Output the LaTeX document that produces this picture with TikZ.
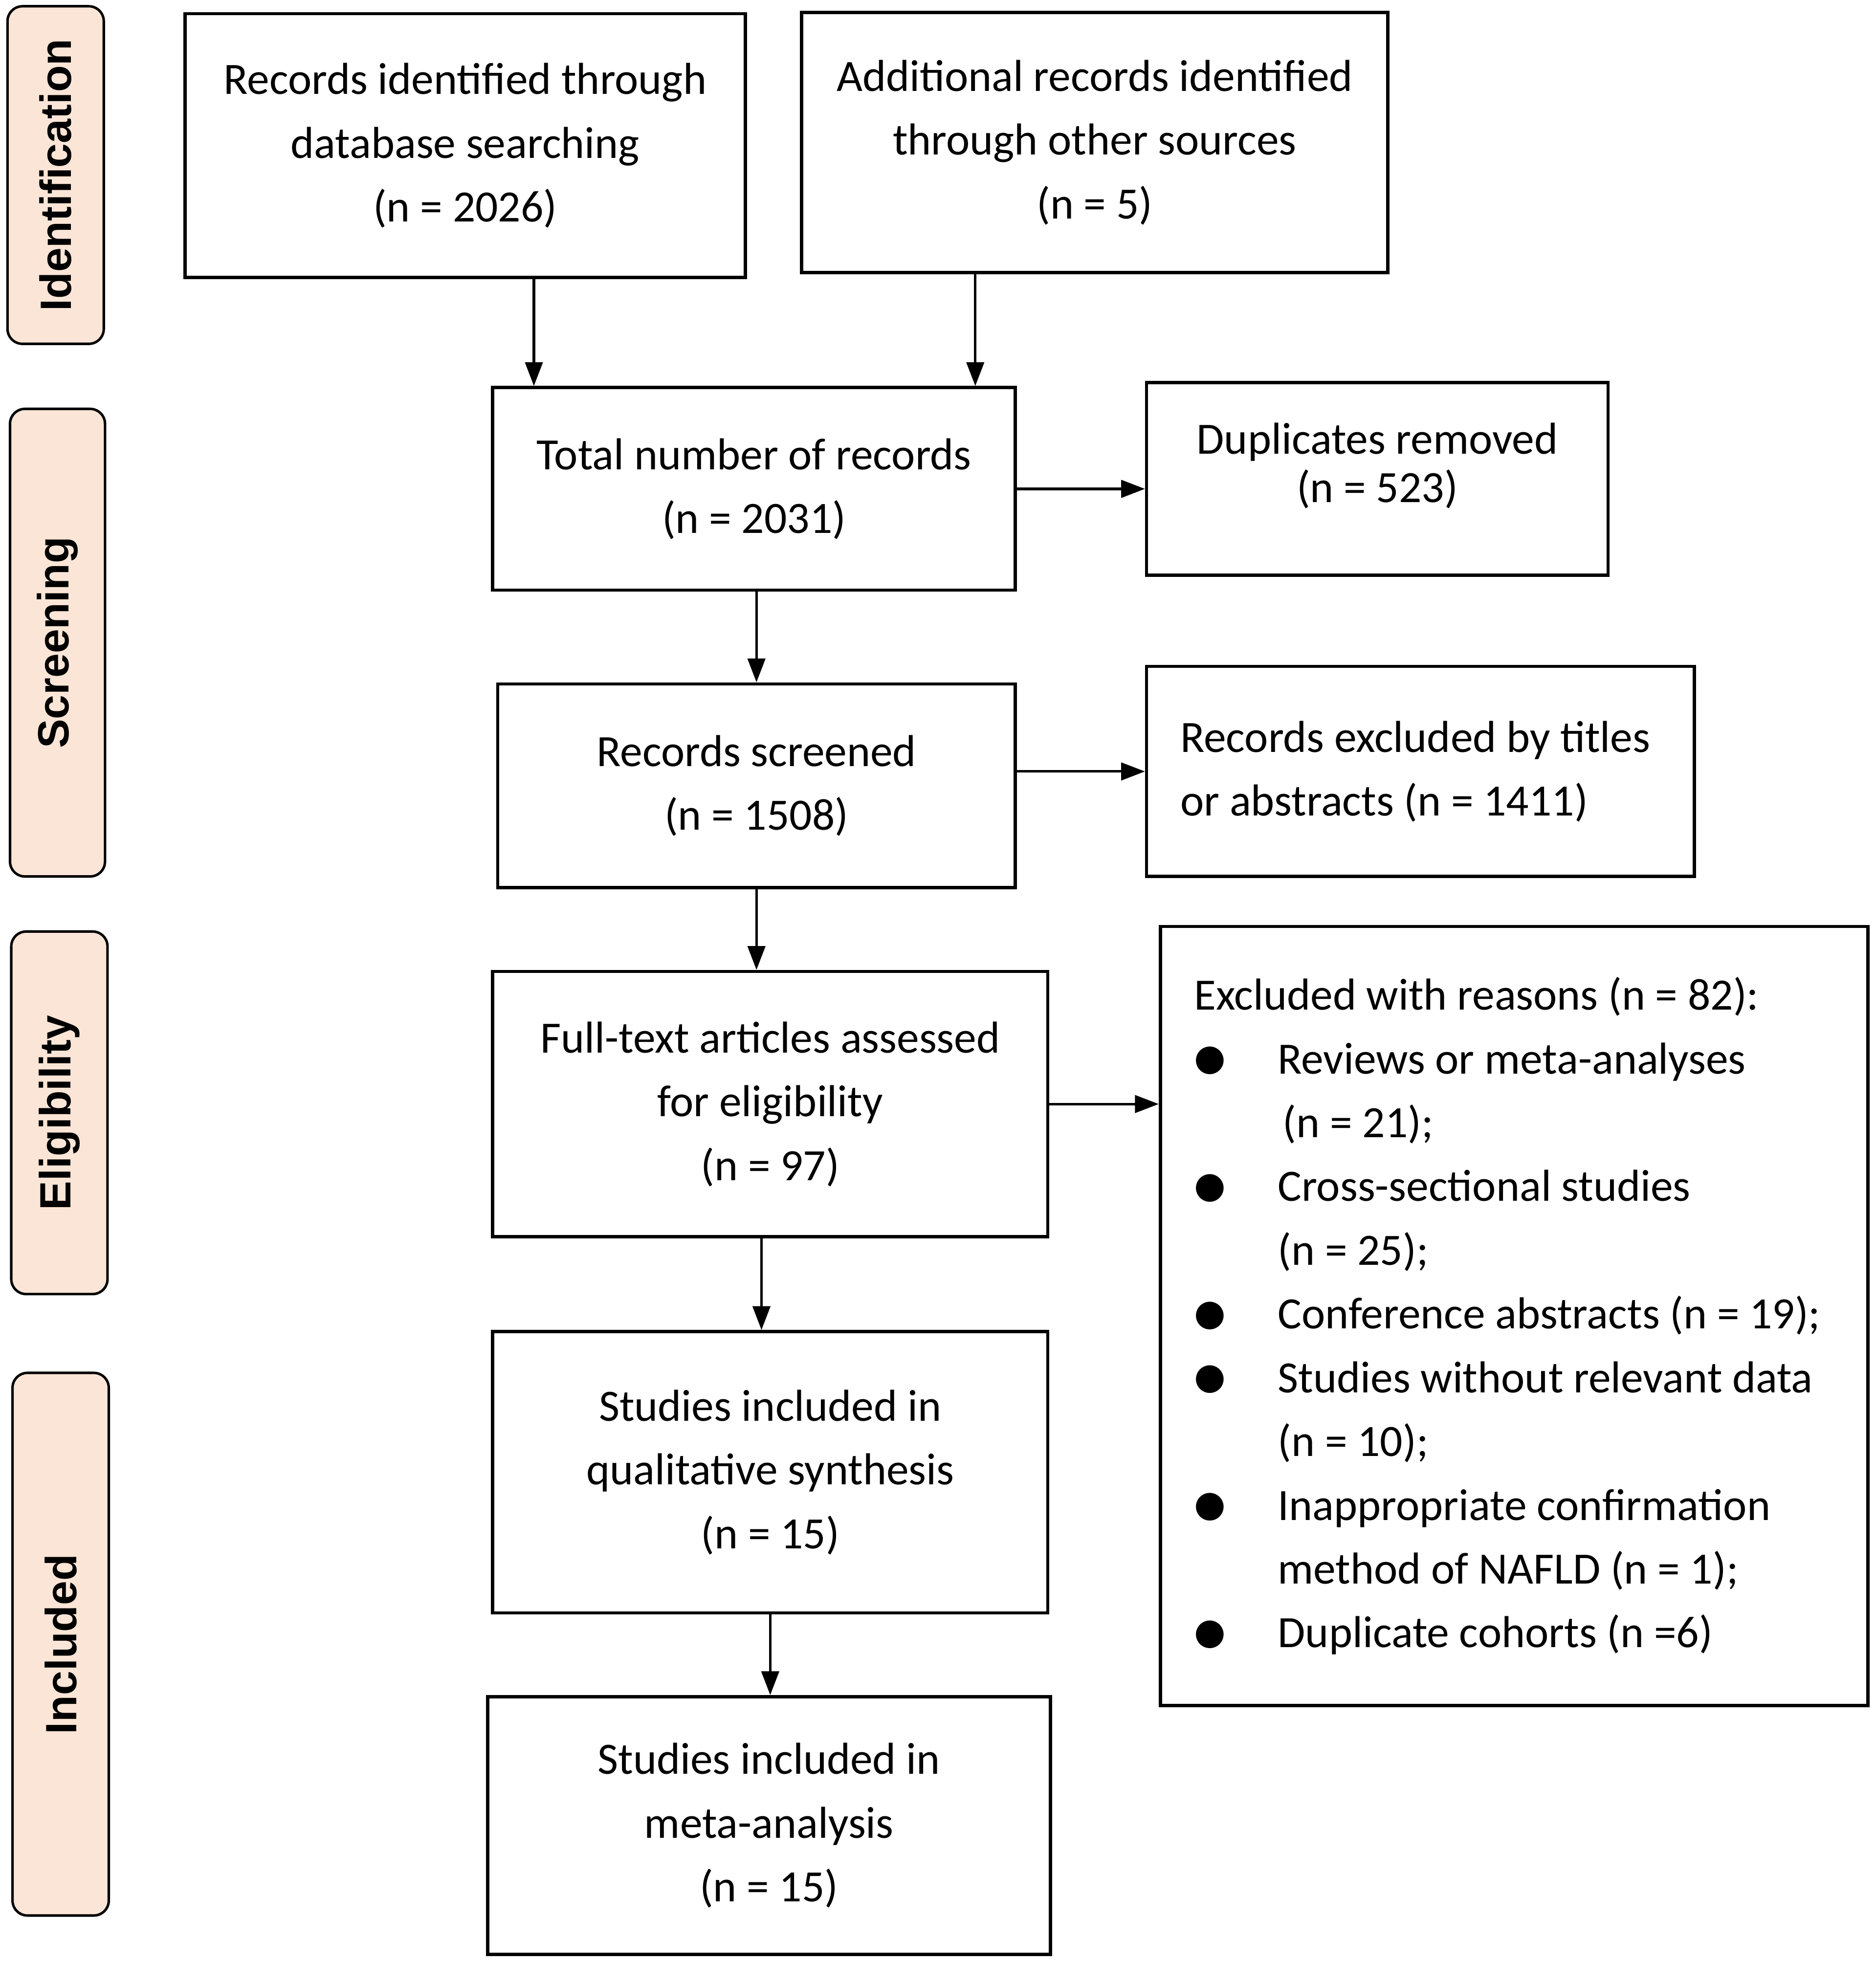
\documentclass[tikz,border=0pt]{standalone}
\usepackage{fontspec}
\setmainfont{Carlito}
\newfontfamily\sidefont{Liberation Sans}
\newfontfamily\dotfont{DejaVu Sans}
\usetikzlibrary{arrows.meta}
\definecolor{stagefill}{HTML}{FBE5D6}
\newcommand{\bul}{\makebox[33.5pt][l]{\raisebox{1.5pt}{\dotfont\fontsize{14.5}{14.5}\selectfont ●}}}
\newcommand{\cont}{\hspace*{33.5pt}}

\begin{document}
\begin{tikzpicture}[x=0.5pt,y=-0.5pt]
% Default actions for each node
\tikzstyle{every node}=[font=\fontsize{17.9}{25.5}\selectfont];
\tikzstyle{box} = [draw, line width=1.3pt, align=center, inner sep=0pt]
\tikzstyle{stage} = [draw, line width=1pt, fill=stagefill, rounded corners=6pt, rotate=90, inner sep=0pt, font=\sidefont\bfseries\fontsize{17.5}{17.5}\selectfont]
\tikzstyle{arr} = [draw, line width=1pt, -{Triangle[length=9.5pt,width=7pt]}]
\useasboundingbox (0,0) rectangle (1500,1568.4);
% Stage labels on the left
\node [stage, minimum width=135pt, minimum height=38.5pt] (ident) at (44.5,140) {Identification};
\node [stage, minimum width=187pt, minimum height=38pt] (screen) at (46,514) {Screening};
\node [stage, minimum width=145pt, minimum height=38.5pt] (elig) at (47.5,890) {Eligibility};
\node [stage, minimum width=217pt, minimum height=38.5pt] (incl) at (48.5,1315) {Included};
% Define and draw the boxes
\node [box, minimum width=224pt, minimum height=105.5pt] (recdb) at (372,116.5)
{Records identified through\\database searching\\(n = 2026)};
\node [box, minimum width=234.5pt, minimum height=104pt] (recother) at (875.5,114)
{Additional records identified\\through other sources\\(n = 5)};
\node [box, minimum width=209pt, minimum height=81pt] (total) at (603,391)
{Total number of records\\(n = 2031)};
\node [box, minimum width=184.5pt, minimum height=77pt, font=\fontsize{17.9}{19.5}\selectfont] (dupl) at (1101.5,383)
{Duplicates removed\\(n = 523)\\[-6.5pt]};
\node [box, minimum width=207pt, minimum height=81.5pt] (screened) at (605,628.5)
{Records screened\\(n = 1508)};
\node [box, minimum height=84pt, text width=192pt, inner xsep=13.5pt, align=left] (excltitle) at (1136,617)
{\spaceskip=0pt\xspaceskip=0pt
Records excluded by titles\\or abstracts (n = 1411)};
\node [box, minimum width=222pt, minimum height=106pt] (fulltext) at (616,883)
{Full-text articles assessed\\for eligibility\\(n = 97)};
\node [box, minimum height=311.5pt, text width=256pt, inner xsep=13.5pt, align=left] (exclreason) at (1211,1052.5)
{\spaceskip=0pt\xspaceskip=0pt
Excluded with reasons (n = 82):\\
\bul Reviews or meta-analyses\\
\hspace*{35.5pt}(n = 21);\\
\bul Cross-sectional studies\\
\cont(n = 25);\\
\bul \mbox{Conference abstracts (n = 19);}\\
\bul Studies without relevant data\\
\cont(n = 10);\\
\bul Inappropriate confirmation\\
\cont method of NAFLD (n = 1);\\
\bul Duplicate cohorts (n =6)};
\node [box, minimum width=222pt, minimum height=112.5pt] (qual) at (616,1177.5)
{Studies included in\\qualitative synthesis\\(n = 15)};
\node [box, minimum width=225pt, minimum height=103pt] (meta) at (615,1460)
{Studies included in\\meta-analysis\\(n = 15)};
% Draw the arrows
\draw [arr] (recdb.south -| 427,0) -- (total.north -| 427,0);
\draw [arr] (recother.south -| 780,0) -- (total.north -| 780,0);
\draw [arr] (total.east) -- (total.east -| dupl.west);
\draw [arr] (screened.north |- total.south) -- (screened.north);
\draw [arr] (screened.east |- excltitle.west) -- (excltitle.west);
\draw [arr] (screened.south) -- (screened.south |- fulltext.north);
\draw [arr] (fulltext.east) -- (fulltext.east -| exclreason.west);
\draw [arr] (fulltext.south -| 609,0) -- (qual.north -| 609,0);
\draw [arr] (qual.south) -- (qual.south |- meta.north);
\end{tikzpicture}
\end{document}
